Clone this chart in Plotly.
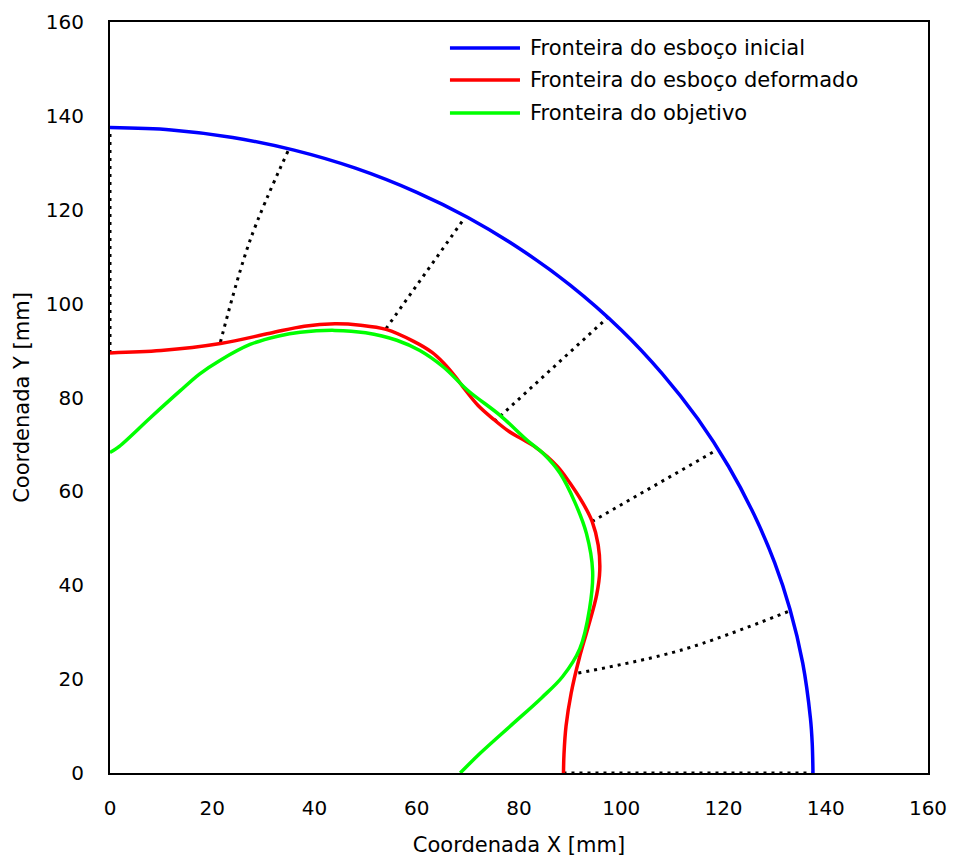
import plotly.graph_objects as go

# Boundary of the initial sketch (quarter arc)
initial_x = [0, 12, 24, 36, 48, 60, 70, 80, 90, 100, 108, 115, 121, 126, 130, 133, 135.5, 137,
             137.35, 137.5]
initial_y = [137.5, 137.0, 135.4, 132.7, 128.85, 123.7, 118.35, 111.8, 103.95, 94.4, 85.1, 75.4,
             65.3, 55.0, 44.8, 34.9, 23.4, 11.7, 6.4, 0]

# Boundary of the deformed sketch
deformed_x = [0, 10, 21.6, 31.3, 38, 44, 49, 54, 59.3, 63, 65.2, 67.5, 69.5, 72, 75.2, 78, 80.5,
              83, 85.4, 87.5, 89.3, 92.5, 94.3, 95.5, 95.8, 95.2, 93.5, 91.8, 90.2, 89.2, 88.8,
              88.7]
deformed_y = [89.5, 90.0, 91.5, 93.7, 95.2, 95.7, 95.4, 94.5, 92.0, 89.6, 87.4, 84.5, 81.6, 78.3,
              75.2, 72.8, 71.2, 69.6, 67.5, 65.3, 62.8, 57.5, 53.6, 48.5, 43.2, 38.0, 31.0, 24.5,
              17.0, 10.0, 4.0, 0]

# Target boundary
target_x = [0, 1.5, 8, 13.7, 17.5, 21.5, 27.4, 33, 37.2, 44, 50, 56.1, 60.6, 65.2, 70, 76.3,
            81.6, 84.7, 88, 91, 93.2, 94.4, 93.8, 91.9, 88.5, 84.4, 78.5, 72.4, 68.5]
target_y = [68.3, 69.3, 75.8, 81.4, 85.0, 87.9, 91.3, 93.1, 93.9, 94.3, 93.8, 92.2, 90.0, 86.5,
            81.5, 76.2, 70.9, 68.1, 63.9, 57.5, 51.0, 43.0, 35.0, 26.5, 20.5, 16.0, 10.2, 4.2, 0]

# Correspondence paths between the deformed and the initial boundary
links_x = [[0, 0], [21.6, 27.4, 34.9], [54.0, 69.4], [75.2, 97.3], [94.3, 118.8],
           [91.6, 111.8, 133.1], [88.7, 137.5]]
links_y = [[89.5, 137.5], [91.8, 113.5, 132.7], [94.7, 118.3], [74.9, 97.0], [53.6, 68.9],
           [21.3, 26.2, 34.6], [0, 0]]

names = ["Fronteira do esboço inicial", "Fronteira do esboço deformado", "Fronteira do objetivo"]
colors = ["#0000FF", "#FF0000", "#00FF00"]

fig = go.Figure()

for lx, ly in zip(links_x, links_y):
    fig.add_trace(go.Scatter(x=lx, y=ly, mode="lines", showlegend=False, hoverinfo="skip",
                             line=dict(color="black", width=3, dash="3px,5px",
                                       shape="spline", smoothing=1.0)))

for xs, ys, name, c in zip([initial_x, deformed_x, target_x], [initial_y, deformed_y, target_y],
                           names, colors):
    fig.add_trace(go.Scatter(x=xs, y=ys, mode="lines", name=name, showlegend=False,
                             line=dict(color=c, width=3.5, shape="spline", smoothing=1.0)))

# Legend drawn as swatch lines plus labels
leg_x0, leg_x1, leg_tx = 0.4156, 0.5012, 0.5110
leg_y = [0.9654, 0.9228, 0.8788]
for name, c, yy in zip(names, colors, leg_y):
    fig.add_shape(type="line", xref="paper", yref="paper", x0=leg_x0, x1=leg_x1, y0=yy, y1=yy,
                  line=dict(color=c, width=3.5))
    fig.add_annotation(xref="paper", yref="paper", x=leg_tx, y=yy, text=name, showarrow=False,
                       xanchor="left", yanchor="middle",
                       font=dict(family="DejaVu Sans", size=21, color="black"))

axis_common = dict(range=[0, 160], dtick=20, showgrid=False, zeroline=False, showline=True,
                   mirror=True, linecolor="black", linewidth=2, ticks="", automargin=False,
                   tickfont=dict(family="DejaVu Sans", size=20, color="black"))

fig.update_layout(
    width=959, height=864,
    margin=dict(l=110, r=31, t=22, b=91),
    paper_bgcolor="white", plot_bgcolor="white",
    xaxis=dict(**axis_common, ticklabelstandoff=16,
               title=dict(text="Coordenada X [mm]", standoff=18,
                          font=dict(family="DejaVu Sans", size=21, color="black"))),
    yaxis=dict(**axis_common, ticklabelstandoff=20,
               title=dict(text="Coordenada Y [mm]", standoff=10,
                          font=dict(family="DejaVu Sans", size=21, color="black"))),
)

fig.write_html("out.html")
